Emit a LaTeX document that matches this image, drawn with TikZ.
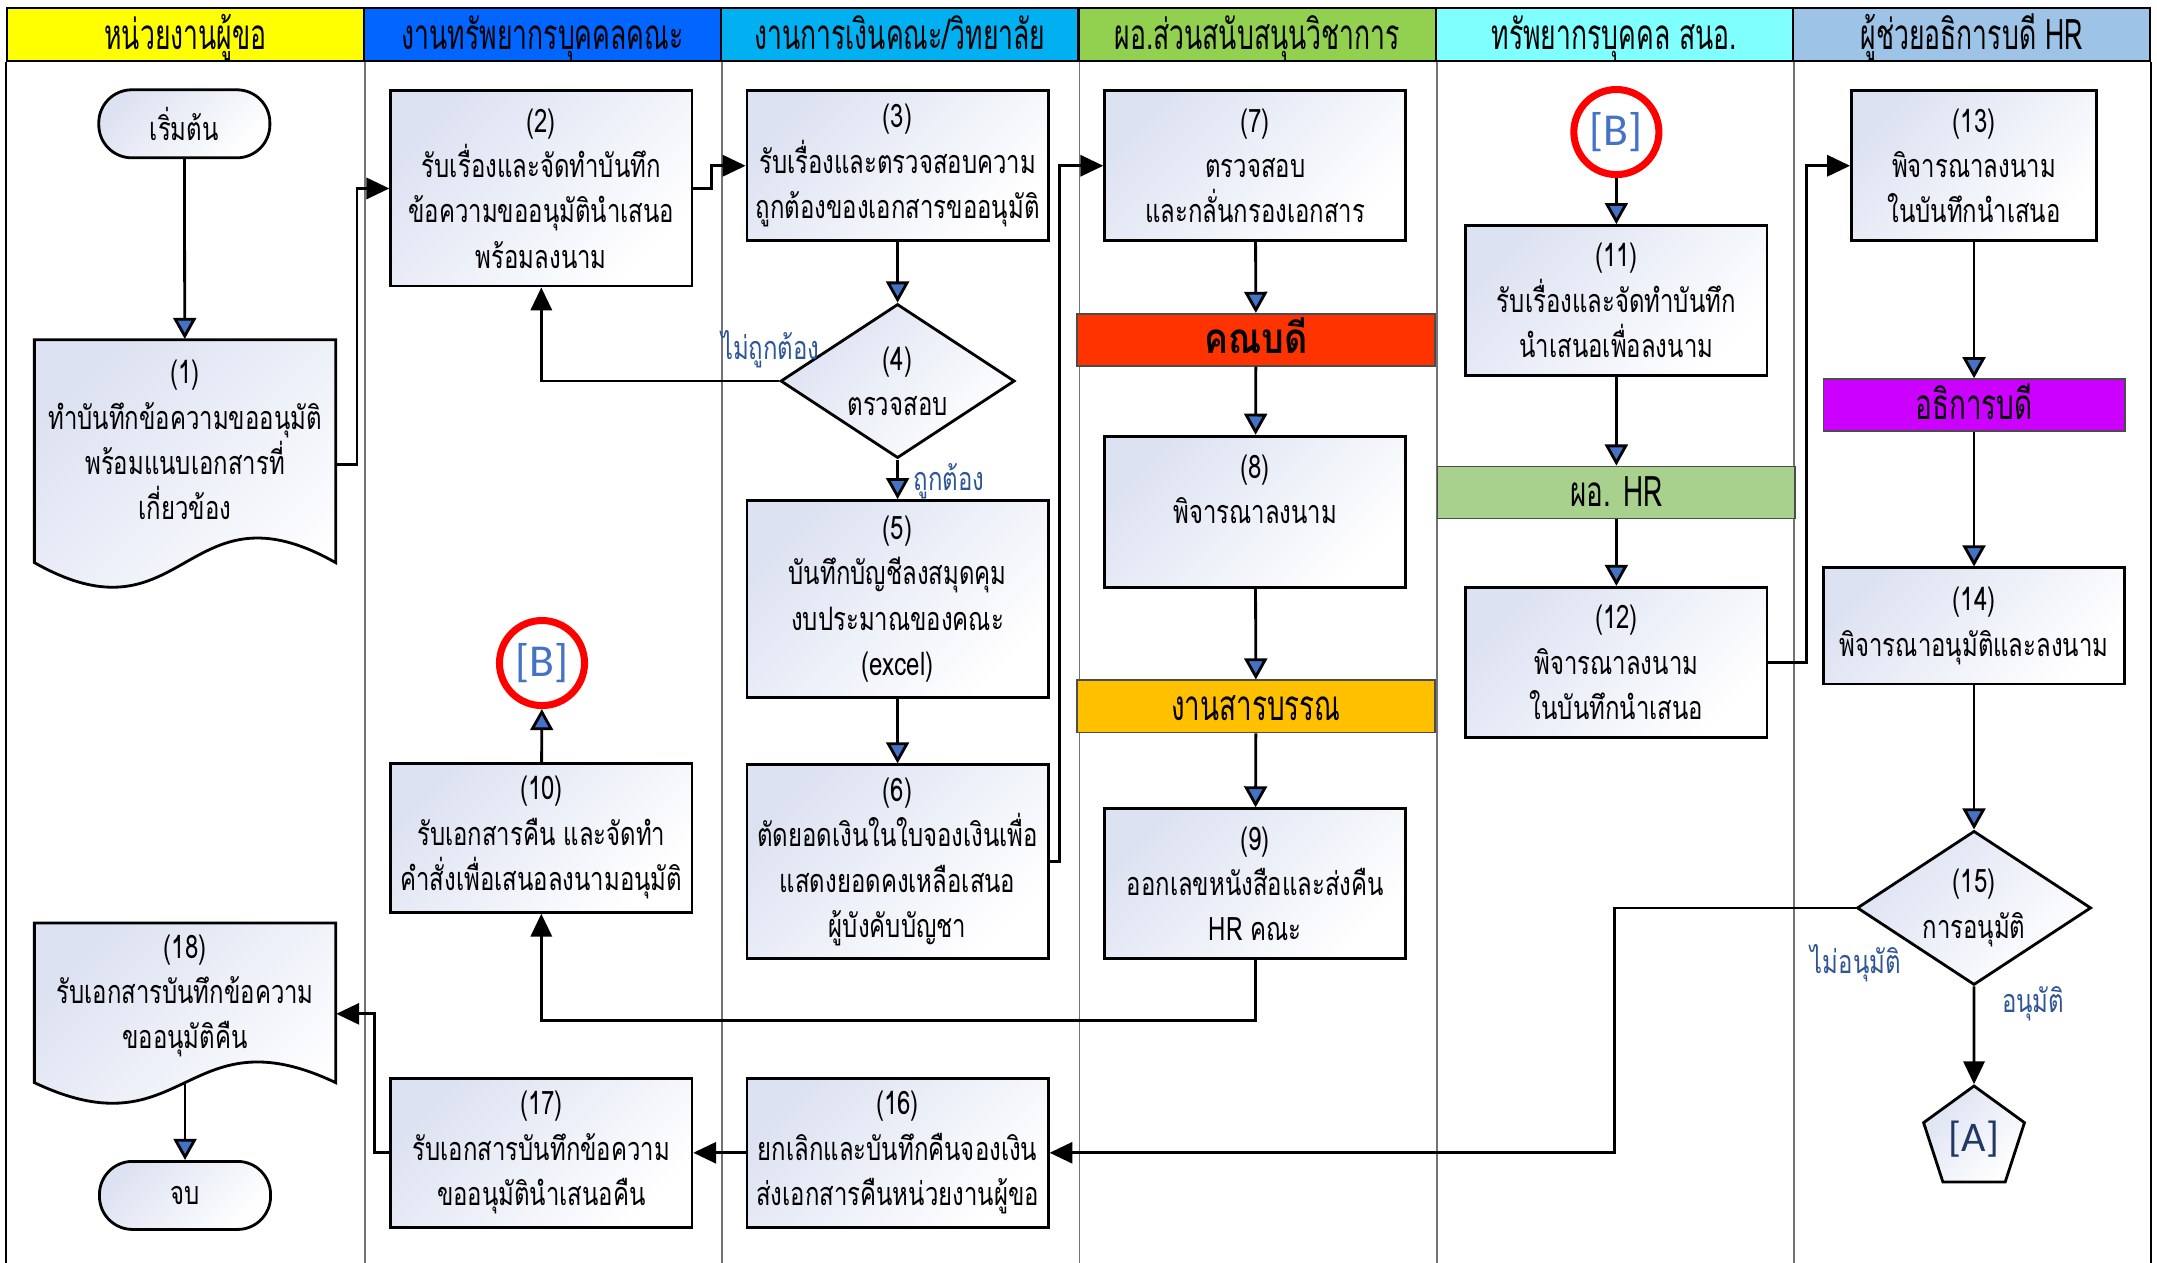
\documentclass[tikz,border=0pt]{standalone}
\usepackage{fontspec}
\setmainfont{Loma}[Script=Thai, FakeStretch=0.74]
\newfontfamily\headfont{Loma}[Script=Thai, FakeStretch=0.63]
\newfontfamily\barfont{Loma}[Script=Thai, FakeStretch=0.66]
\newfontfamily\deanfont{Loma}[Script=Thai, FakeStretch=0.85]
\newfontfamily\latinfont{Carlito}
\usetikzlibrary{arrows.meta,shapes.geometric}
\definecolor{laneA}{RGB}{255,255,0}
\definecolor{laneB}{RGB}{0,102,255}
\definecolor{laneC}{RGB}{0,176,240}
\definecolor{laneD}{RGB}{146,208,80}
\definecolor{laneE}{RGB}{128,255,255}
\definecolor{laneF}{RGB}{157,195,230}
\definecolor{shadeA}{RGB}{221,226,242}
\definecolor{tipblue}{RGB}{68,114,196}
\definecolor{lblblue}{RGB}{47,85,151}
\definecolor{deanred}{RGB}{255,51,0}
\definecolor{saraban}{RGB}{255,192,0}
\definecolor{hrgreen}{RGB}{169,209,142}
\definecolor{presviolet}{RGB}{204,0,255}
\definecolor{ringred}{RGB}{255,0,0}
\definecolor{adark}{RGB}{31,56,100}

\begin{document}
\begin{tikzpicture}[x=0.01375cm, y=-0.01375cm,
            txt/.style={font=\fontsize{9.2}{12.9}\selectfont, align=center},
            shaded/.style={top color=shadeA, bottom color=white, shading angle=45},
            stepbox/.style={txt, shaded, draw, line width=0.8pt, minimum width=3.01cm, inner sep=1pt},
            termbox/.style={txt, shaded, draw, line width=0.8pt, rounded corners=0.33cm, minimum width=1.71cm, minimum height=0.68cm},
            decide/.style={txt, shaded, draw, line width=0.8pt, diamond, shape aspect=1.52, minimum width=2.34cm, minimum height=1.54cm, inner sep=0pt},
            docshape/.style={shaded, draw, line width=0.8pt},
            bar/.style={draw=black!70, line width=0.5pt, minimum width=3.575cm, minimum height=0.52cm, inner sep=0pt,
                        text height=10pt, text depth=2pt, font=\barfont\fontsize{12}{13}\selectfont},
            headcell/.style={draw, line width=0.6pt, minimum width=3.57cm, minimum height=0.53cm, inner sep=0pt,
                        text height=10.2pt, text depth=1.8pt, font=\headfont\fontsize{12}{13}\selectfont},
            ring/.style={circle, draw=ringred, line width=2pt, fill=white, minimum size=0.85cm, inner sep=0pt, text=tipblue, font=\latinfont\fontsize{13}{14}\selectfont},
            branch/.style={text=lblblue, inner sep=0pt, font=\fontsize{9.2}{10}\selectfont},
            flow/.style={line width=0.8pt, -{Triangle[width=6.5pt,length=6pt,fill=tipblue]}},
            jump/.style={line width=0.8pt, -{Triangle[width=6pt,length=6.5pt]}}
            ]
    \useasboundingbox (0,0) rectangle (1568,918);
    % lanes and their headers
    \foreach \c/\t [count=\i] in {laneA/หน่วยงานผู้ขอ, laneB/งานทรัพยากรบุคคลคณะ, laneC/{งานการเงินคณะ/วิทยาลัย},
            laneD/ผอ.ส่วนสนับสนุนวิชาการ, laneE/ทรัพยากรบุคคล สนอ., laneF/ผู้ช่วยอธิการบดี HR}{
        \node[headcell, fill=\c] (head\i) at ({5+(\i-0.5)*259.67},25) {\t};
        \draw[black!55, line width=0.5pt] (head\i.south east) -- ++(0,874);
    }
    \draw[line width=0.6pt] (head1.south west) -- ++(0,874);
    \draw[line width=0.6pt] (head6.south east) -- ++(0,874);

    % requesting unit
    \node[termbox] (start) at (134,90) {เริ่มต้น};
    \node[minimum width=3.01cm, minimum height=2.49cm, inner sep=0pt] (n1) at (134.5,337.5) {};
    \path[docshape] (25,247) -- (244,247) -- (244,409) .. controls (134.5,347) and (134.5,471) .. (25,409) -- cycle;
    \node[txt] (n1t) at (134.5,320) {(1)\\ทำบันทึกข้อความขออนุมัติ\\พร้อมแนบเอกสารที่\\เกี่ยวข้อง};
    \node[minimum width=3.01cm, minimum height=1.82cm, inner sep=0pt] (n18) at (134.5,737) {};
    \path[docshape] (25,671) -- (244,671) -- (244,787) .. controls (134.5,735) and (134.5,839) .. (25,787) -- cycle;
    \node[txt] (n18t) at (134.5,724) {(18)\\รับเอกสารบันทึกข้อความ\\ขออนุมัติคืน};
    \coordinate (n18w) at (134.5,787);
    \node[termbox] (stop) at (134.5,869) {จบ};

    % faculty HR
    \node[stepbox, minimum height=1.95cm] (n2) at (393.5,137) {(2)\\รับเรื่องและจัดทำบันทึก\\ข้อความขออนุมัตินำเสนอ\\พร้อมลงนาม};
    \node[ring] (ringlow) at (394,482) {[B]};
    \node[stepbox, minimum height=1.49cm] (n10) at (393.5,609) {(10)\\รับเอกสารคืน และจัดทำ\\คำสั่งเพื่อเสนอลงนามอนุมัติ};
    \node[stepbox, minimum height=1.49cm] (n17) at (393.5,838) {(17)\\รับเอกสารบันทึกข้อความ\\ขออนุมัตินำเสนอคืน};

    % finance
    \node[stepbox, minimum height=1.5cm] (n3) at (652.5,120.5) {(3)\\รับเรื่องและตรวจสอบความ\\ถูกต้องของเอกสารขออนุมัติ};
    \node[decide] (n4) at (652.5,277) {(4)\\ตรวจสอบ};
    \node[stepbox, minimum height=1.97cm] (n5) at (652.5,435.5) {(5)\\บันทึกบัญชีลงสมุดคุม\\งบประมาณของคณะ\\(excel)};
    \node[stepbox, minimum height=1.94cm] (n6) at (652.5,626.5) {(6)\\ตัดยอดเงินในใบจองเงินเพื่อ\\แสดงยอดคงเหลือเสนอ\\ผู้บังคับบัญชา};
    \node[stepbox, minimum height=1.49cm] (n16) at (652.5,838) {(16)\\ยกเลิกและบันทึกคืนจองเงิน\\ส่งเอกสารคืนหน่วยงานผู้ขอ};
    \node[branch] (wrong) at (560,254) {ไม่ถูกต้อง};
    \node[branch] (right) at (690,350) {ถูกต้อง};

    % academic support
    \node[stepbox, minimum height=1.5cm] (n7) at (912.5,120.5) {(7)\\ตรวจสอบ\\และกลั่นกรองเอกสาร};
    \node[bar, fill=deanred, font=\deanfont\bfseries\fontsize{12}{13}\selectfont] (dean) at (913,247) {คณบดี};
    \node[stepbox, minimum height=1.51cm] (n8) at (912.5,372) {(8)\\พิจารณาลงนาม\\~};
    \node[bar, fill=saraban] (office) at (913,513.5) {งานสารบรรณ};
    \node[stepbox, minimum height=1.5cm] (n9) at (912.5,642.5) {(9)\\ออกเลขหนังสือและส่งคืน\\HR คณะ};

    % central HR
    \node[ring] (ringup) at (1175,96) {[B]};
    \node[stepbox, minimum height=1.5cm] (n11) at (1175,218.5) {(11)\\รับเรื่องและจัดทำบันทึก\\นำเสนอเพื่อลงนาม};
    \node[bar, fill=hrgreen] (hrhead) at (1175,358) {ผอ. HR};
    \node[stepbox, minimum height=1.5cm] (n12) at (1175,481.5) {(12)\\พิจารณาลงนาม\\ในบันทึกนำเสนอ};

    % assistant president
    \node[stepbox, minimum width=2.45cm, minimum height=1.5cm] (n13) at (1435,120.5) {(13)\\พิจารณาลงนาม\\ในบันทึกนำเสนอ};
    \node[bar, minimum width=3.01cm, fill=presviolet] (pres) at (1435,294.5) {อธิการบดี};
    \node[stepbox, minimum height=1.16cm] (n14) at (1435,455) {(14)\\พิจารณาอนุมัติและลงนาม};
    \node[decide] (n15) at (1435,660) {(15)\\การอนุมัติ};
    \node[regular polygon, regular polygon sides=5, shaded, draw, line width=0.8pt, minimum size=1.06cm, inner sep=0pt,
          text=adark, font=\latinfont\fontsize{12}{13}\selectfont] (pA) at (1435,828) {[A]};
    \node[branch] (denied) at (1349,700) {ไม่อนุมัติ};
    \node[branch] (granted) at (1478,730) {อนุมัติ};

    % connectors
    \draw[flow] (start) -- (n1);
    \draw[jump] (n1.east) -- ++(15,0) |- (n2.west);
    \draw[jump] (n2.east) -- ++(13,0) |- (n3.west);
    \draw[flow] (n3) -- (n4);
    \draw[jump] (n4.west) -| (n2.south);
    \draw[flow] (n4) -- (n5);
    \draw[flow] (n5) -- (n6);
    \draw[jump] (n6.east) -- ++(7,0) |- (n7.west);
    \draw[flow] (n7) -- (dean);
    \draw[flow] (dean) -- (n8);
    \draw[flow] (n8) -- (office);
    \draw[flow] (office) -- (n9);
    \draw[jump] (n9.south) -- ++(0,44) -| (n10.south);
    \draw[flow] (n10) -- (ringlow);
    \draw[flow] (ringup) -- (n11);
    \draw[flow] (n11) -- (hrhead);
    \draw[flow] (hrhead) -- (n12);
    \draw[jump] (n12.east) -- ++(28,0) |- (n13.west);
    \draw[flow] (n13) -- (pres);
    \draw[flow] (pres) -- (n14);
    \draw[flow] (n14) -- (n15);
    \draw[jump] (n15) -- (pA);
    \draw[jump] (n15.west) -- ++(-175,0) |- (n16.east);
    \draw[jump] (n16) -- (n17);
    \draw[jump] (n17.west) -- ++(-11,0) |- (n18.east);
    \draw[flow] (n18w) -- (stop);
\end{tikzpicture}
\end{document}
